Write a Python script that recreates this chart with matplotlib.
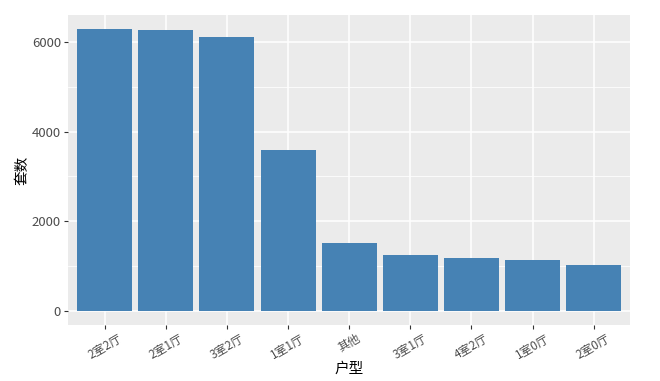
#!/usr/bin/env python3
# -*- coding: utf-8 -*-

import matplotlib
matplotlib.use("Agg")
import matplotlib.pyplot as plt
from matplotlib.ticker import MultipleLocator

plt.rcParams['font.family'] = ['Noto Sans CJK SC', 'DejaVu Sans']

# Data
layouts = ["2室2厅", "2室1厅", "3室2厅", "1室1厅", "其他", "3室1厅", "4室2厅", "1室0厅", "2室0厅"]
counts = [6290, 6265, 6110, 3600, 1510, 1245, 1180, 1135, 1020]

fig = plt.figure(figsize=(6.6, 3.81), dpi=100)
ax = fig.add_axes([0.103, 0.147, 0.852, 0.814])

positions = list(range(1, len(layouts) + 1))
ax.bar(positions, counts, width=0.9, color="#4682B4", zorder=3)

# ggplot-like look
ax.set_facecolor("#EBEBEB")
for side in ax.spines.values():
    side.set_visible(False)

ax.set_xlim(0.4, len(layouts) + 0.6)
ax.set_ylim(-0.05 * max(counts), 1.05 * max(counts))
ax.yaxis.set_major_locator(MultipleLocator(2000))
ax.yaxis.set_minor_locator(MultipleLocator(1000))
ax.grid(which="major", color="white", linewidth=1.1, zorder=0)
ax.grid(which="minor", axis="y", color="white", linewidth=0.55, zorder=0)
ax.set_axisbelow(True)

ax.set_xticks(positions)
ax.set_xticklabels(layouts, rotation=30, ha="center", va="top")
ax.tick_params(axis="both", which="major", colors="#333333", labelcolor="#4D4D4D",
               length=3, width=0.8)
ax.tick_params(axis="x", labelsize=8.5, pad=2)
ax.tick_params(axis="y", labelsize=9.5, pad=2)
ax.tick_params(axis="y", which="minor", length=0)

ax.set_xlabel("户型", fontsize=10.5, color="black", labelpad=0)
ax.set_ylabel("套数", fontsize=10.5, color="black", labelpad=2)

fig.savefig("out.png", dpi=100, facecolor="white")
